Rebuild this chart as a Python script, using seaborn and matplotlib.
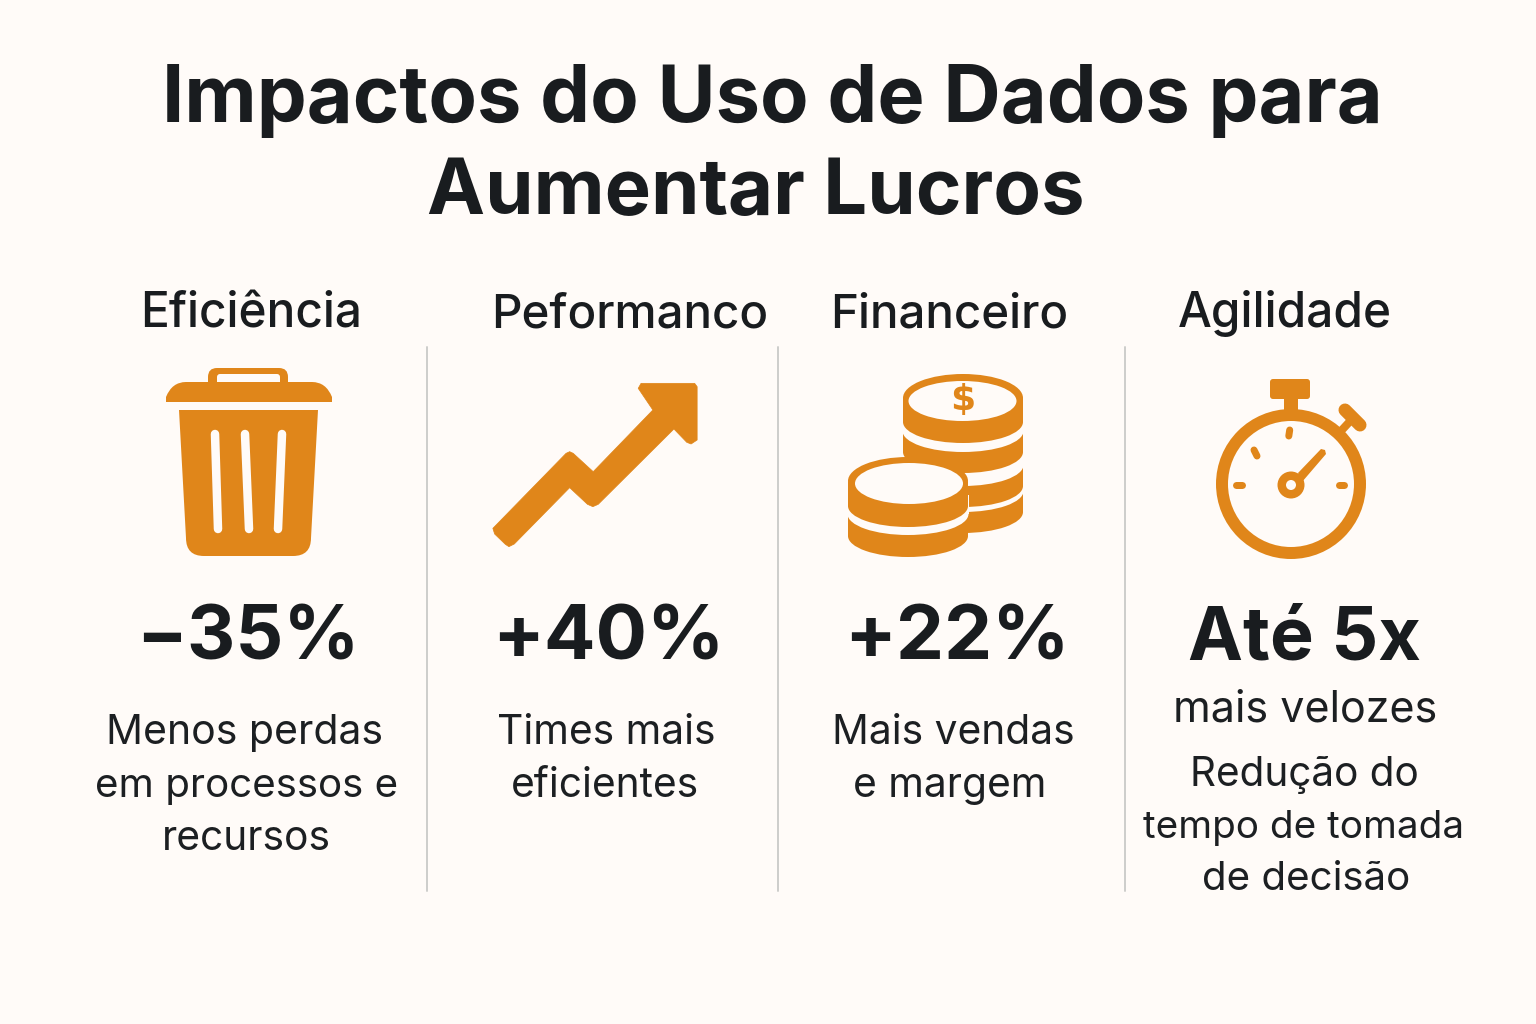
import matplotlib
matplotlib.use("Agg")
import matplotlib.pyplot as plt
import seaborn as sns
import numpy as np
from matplotlib.patches import Polygon, Ellipse, Rectangle, FancyBboxPatch, Circle, PathPatch
from matplotlib.path import Path

# ---------- content ----------
title_lines = ["Impactos do Uso de Dados para", "Aumentar Lucros"]
categories = ["Eficiência", "Peformanco", "Financeiro", "Agilidade"]
stats = ["−35%", "+40%", "+22%", "Até 5x"]
desc_1 = ["Menos perdas", "em processos e", "recursos"]
desc_2 = ["Times mais", "eficientes"]
desc_3 = ["Mais vendas", "e margem"]
desc_4 = ["mais velozes", "Redução do", "tempo de tomada", "de decisão"]

# ---------- style ----------
BG = "#FFFBF8"
ORANGE = "#E0861A"
DARK = "#191C1F"
BODY = "#1C1F22"
RULE = "#CDCDCB"
FONT = "Inter"

sns.set_theme(style="white", rc={"figure.facecolor": BG, "axes.facecolor": BG})
plt.rcParams["font.family"] = [FONT, "DejaVu Sans"]

fig = plt.figure(figsize=(15.36, 10.24), dpi=100)
ax = fig.add_axes([0, 0, 1, 1])

# ---------- dividers ----------
for x in [427, 778, 1125]:
    sns.lineplot(x=[x, x], y=[347, 891], ax=ax, color=RULE, lw=1.4, legend=False,
                 estimator=None, errorbar=None, sort=False)

ax.set_xlim(0, 1536)
ax.set_ylim(1024, 0)
ax.axis("off")

# ---------- text ----------
for s, cx, by, fs in zip(title_lines, [772.5, 755.5], [122, 214], [57.1, 56]):
    ax.text(cx, by, s, ha="center", va="baseline", fontsize=fs, fontweight="bold", color=DARK)

for s, cx, fs in zip(categories, [251.5, 630, 949.5, 1285], [34.4, 34.2, 34.2, 34.4]):
    ax.text(cx, 327, s, ha="center", va="baseline", fontsize=fs, fontweight="medium", color=DARK)

for s, cx, fs in zip(stats, [248, 608.5, 956.5, 1304], [54, 55, 55, 53]):
    ax.text(cx, 660, s, ha="center", va="baseline", fontsize=fs, fontweight="bold", color=DARK)

def lines(items, centers, bases, sizes=None):
    sizes = sizes or [29.3] * len(items)
    for s, cx, by, fs in zip(items, centers, bases, sizes):
        ax.text(cx, by, s, ha="center", va="baseline", fontsize=fs, fontweight="normal", color=BODY)

lines(desc_1, [245, 247, 246], [744, 797, 850], [29.5, 29, 29.3])
lines(desc_2, [606.5, 605], [744, 797])
lines(desc_3, [953, 950], [744, 797])
lines(desc_4, [1305, 1304, 1304, 1306], [722, 786, 838, 890], [31, 29.2, 27.8, 29])

# ---------- icon helpers ----------
def add(p):
    ax.add_patch(p)
    return p

def rrect(x0, y0, x1, y1, r, fc):
    return add(FancyBboxPatch((x0 + r, y0 + r), x1 - x0 - 2 * r, y1 - y0 - 2 * r,
                              boxstyle=f"round,pad={r},rounding_size={r}", fc=fc, ec="none"))

def stroke(x, y, w, color=ORANGE, cap="round"):
    ax.plot(x, y, color=color, lw=w * 0.72, solid_capstyle=cap, solid_joinstyle="round")

# --- trash can ---
rrect(208, 368, 288, 392, 9, ORANGE)
rrect(217, 374, 280, 392, 3, BG)
V = [(166, 402), (166, 397), (172, 382), (186, 382), (312, 382), (326, 382), (332, 397), (332, 402), (166, 402)]
C = [Path.MOVETO, Path.LINETO, Path.CURVE3, Path.CURVE3, Path.LINETO, Path.CURVE3, Path.CURVE3, Path.LINETO, Path.CLOSEPOLY]
add(PathPatch(Path(V, C), fc=ORANGE, ec="none"))
V = [(179, 410), (318, 410), (311, 538), (311, 556), (293, 556), (204, 556), (186, 556), (186, 538), (179, 410)]
C = [Path.MOVETO, Path.LINETO, Path.LINETO, Path.CURVE3, Path.CURVE3, Path.LINETO, Path.CURVE3, Path.CURVE3, Path.CLOSEPOLY]
add(PathPatch(Path(V, C), fc=ORANGE, ec="none"))
for (xa, xb) in [(215, 218), (245, 249), (282, 278)]:
    stroke([xa, xb], [434, 529], 8.5, color=BG)

# --- rising arrow ---
arrow_zoom = [(960, 535), (1165, 310), (1175, 305), (1185, 310), (1241, 365), (1408, 180), (1367, 115),
              (1375, 100), (1525, 100), (1532, 110), (1532, 270), (1515, 282), (1503, 277), (1467, 237),
              (1255, 463), (1240, 470), (1225, 463), (1175, 413), (1020, 582), (1005, 590), (995, 583), (965, 552)]
add(Polygon([(150 + a / 2.8, 350 + b / 3) for a, b in arrow_zoom], closed=True,
            fc=ORANGE, ec=ORANGE, lw=0.5, joinstyle="round"))

# --- coins ---
def disk(cx, w, top, bottom, e, fc):
    """Flat cylinder side: straight sides with an elliptical lower edge."""
    add(Rectangle((cx - w / 2, top), w, bottom - e - top, fc=fc, ec="none"))
    add(Ellipse((cx, bottom - e), w, 2 * e, fc=fc, ec="none"))

cx_r, cx_l = 963, 908
for b, top in [(533, 490), (507, 460), (473, 430)]:
    disk(cx_r, 120, top, b, 21, ORANGE)
    disk(cx_r, 121, top - 20, b - 21, 21, BG)
disk(cx_r, 120, 398, 443, 21, ORANGE)
add(Ellipse((cx_r, 398), 120, 48, fc=ORANGE, ec="none"))
add(Ellipse((cx_r - 0.5, 401), 108, 40, fc=BG, ec="none"))
ax.text(cx_r, 400, "$", ha="center", va="center", fontsize=26, fontweight="bold",
        family="DejaVu Sans", color=ORANGE)

disk(cx_l, 120, 510, 557, 21, ORANGE)
disk(cx_l, 121, 495, 535, 21, BG)
disk(cx_l, 120, 482, 527, 21, ORANGE)
add(Ellipse((cx_l, 481), 120, 48, fc=ORANGE, ec="none"))
add(Ellipse((cx_l + 1, 483.5), 108, 41, fc=BG, ec="none"))

# --- stopwatch ---
add(Circle((1291, 484), 75, fc=ORANGE, ec="none"))
add(Circle((1291, 484), 63, fc=BG, ec="none"))
rrect(1270, 379, 1310, 399, 3, ORANGE)
add(Rectangle((1284, 398), 14, 14, fc=ORANGE, ec="none"))
stroke([1341, 1353], [431, 418], 8, cap="butt")
stroke([1345, 1360], [410, 425], 13)
for xs, ys in [((1289.7, 1288.8), (430, 436)), ((1254, 1257), (450, 456)),
               ((1236, 1242), (485, 485)), ((1339, 1344), (485, 485))]:
    stroke(list(xs), list(ys), 7)
add(Polygon([(1298, 473), (1321, 449), (1325, 450), (1326, 454), (1302, 482)], closed=True, fc=ORANGE, ec="none"))
add(Circle((1291, 485), 13.5, fc=ORANGE, ec="none"))
add(Circle((1291, 485), 5, fc=BG, ec="none"))

fig.savefig("out.png", dpi=100, facecolor=BG)
